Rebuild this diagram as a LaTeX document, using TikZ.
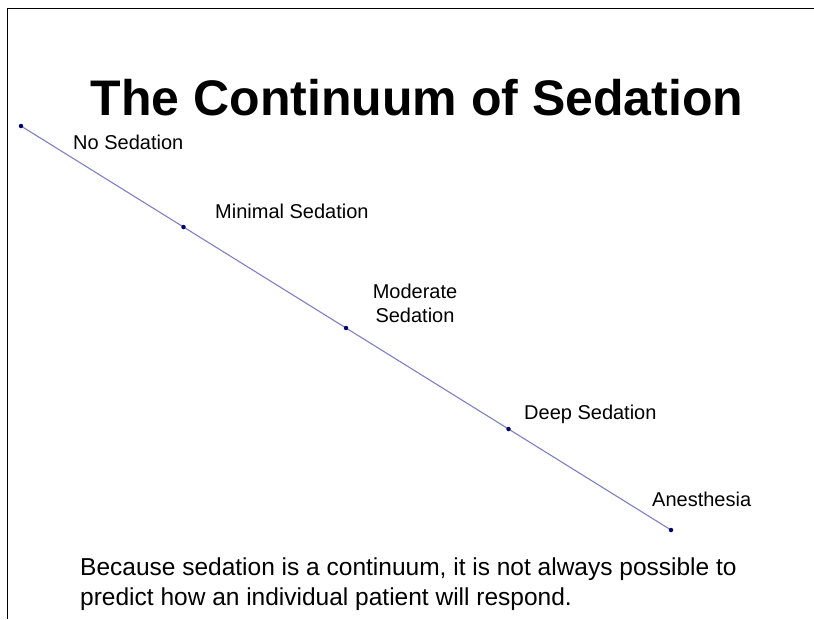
\documentclass[tikz,border=0pt]{standalone}
\usepackage{fontspec}
\setmainfont{Liberation Sans}
\usepackage{xcolor}
\usepackage{tikz}
\usetikzlibrary{positioning}
\definecolor{sdLine}{HTML}{7F7FC6}
\definecolor{sdDot}{HTML}{00006E}
\definecolor{sdInk}{HTML}{000000}
\tikzset{
  sd diagram/.style={text=sdInk, line cap=round, line join=round},
  sd frame/.style={draw=sdInk, line width=1.4pt, line cap=butt},
  sd scale/.style={draw=sdLine, line width=1.1pt},
  sd dot/.style={circle, fill=sdDot, inner sep=0pt, minimum size=4.5pt},
  sd label/.style={font=\fontsize{20}{24}\selectfont, inner sep=0pt, anchor=base west},
  sd title/.style={font=\bfseries\fontsize{50}{60}\selectfont, inner sep=0pt, anchor=base},
  sd note/.style={font=\fontsize{24.5}{30}\selectfont, inner sep=0pt, align=left, anchor=base west}
}

\begin{document}
\begin{tikzpicture}[sd diagram,x=1pt,y=-1pt]
\useasboundingbox (0,0) rectangle (814,619);
\draw[sd frame] (7.5,619) -- (7.5,8.5) -- (814,8.5);
\node[sd title] (title) at (417,115) {The Continuum of Sedation};
% points along the continuum
\foreach \n/\x/\y in {none/21/126,minimal/183.5/227,moderate/346/328,deep/508.5/429,anesthesia/671/530}{
  \coordinate (p-\n) at (\x,\y);
}
\draw[sd scale] (p-none) -- (p-anesthesia);
\foreach \n in {none,minimal,moderate,deep,anesthesia}{
  \node[sd dot] (d-\n) at (p-\n) {};
}
\node[sd label] (l-none) at (73,149) {No Sedation};
\node[sd label] (l-minimal) at (215,218) {Minimal Sedation};
\node[sd label,align=center,anchor=base] (l-moderate) at (415,322) {Moderate\\Sedation};
\node[sd label] (l-deep) at (524,419) {Deep Sedation};
\node[sd label] (l-anesthesia) at (652,506) {Anesthesia};
\node[sd note] (note) at (80,605) {Because sedation is a continuum, it is not always possible to\\predict how an individual patient will respond.};
\end{tikzpicture}
\end{document}
